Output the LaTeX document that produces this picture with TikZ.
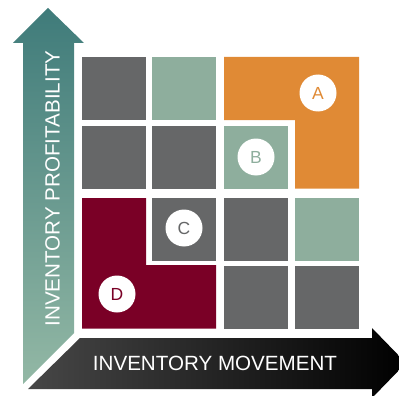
\documentclass[tikz,border=0pt]{standalone}
\usepackage{fontspec}
\setmainfont{Liberation Sans}
\usepackage{xcolor}
\definecolor{cellgrey}{HTML}{666768}
\definecolor{sage}{HTML}{8EAE9D}
\definecolor{amber}{HTML}{E08A35}
\definecolor{wine}{HTML}{7A0026}
\definecolor{tealtop}{HTML}{3F7B7A}
\definecolor{tealbot}{HTML}{93B8A5}
\definecolor{shaftgrey}{HTML}{474747}
\tikzset{
  badge/.style={circle, fill=white, minimum size=37pt, inner sep=0pt, font=\fontsize{17.5}{20}\selectfont},
  axislab/.style={text=white, inner sep=0pt, font=\fontsize{20.6}{24}\selectfont},
}

\begin{document}
\begin{tikzpicture}[x=1pt,y=-1pt]
  \useasboundingbox (0,0) rectangle (399,396);
  \clip (0,0) rectangle (399,396);
  % axis arrows
  \shade[top color=tealtop, bottom color=tealbot]
    (48,8) -- (84,43) -- (74,43) -- (74,333) -- (23,384) -- (23,43) -- (13,43) -- cycle;
  \shade[left color=shaftgrey, right color=black]
    (80,338) -- (372,338) -- (372,328) -- (406,363) -- (372,398) -- (372,389) -- (28,389) -- cycle;
  \node[axislab, rotate=90] (profit) at (52.5,188.5) {INVENTORY PROFITABILITY};
  \node[axislab] (movement) at (215,363) {INVENTORY MOVEMENT};
  % plain cells
  \foreach \xa/\ya/\col in {82/57/cellgrey, 152/57/sage, 82/126/cellgrey, 152/126/cellgrey,
      224/126/sage, 152/198/cellgrey, 224/198/cellgrey, 295/198/sage,
      224/266/cellgrey, 295/266/cellgrey}
    \fill[\col] (\xa,\ya) rectangle ++(64,62.5);
  % merged groups
  \fill[amber] (224,57) -- (359,57) -- (359,188.5) -- (295,188.5) -- (295,120) -- (224,120) -- cycle;
  \fill[wine] (82,198) -- (146,198) -- (146,265) -- (216,265) -- (216,328.5) -- (82,328.5) -- cycle;
  % badges
  \node[badge, text=amber] (A) at (318,93) {A};
  \node[badge, text=sage] (B) at (256,157) {B};
  \node[badge, text=cellgrey] (C) at (184,228) {C};
  \node[badge, text=wine] (D) at (117,294) {D};
\end{tikzpicture}
\end{document}
